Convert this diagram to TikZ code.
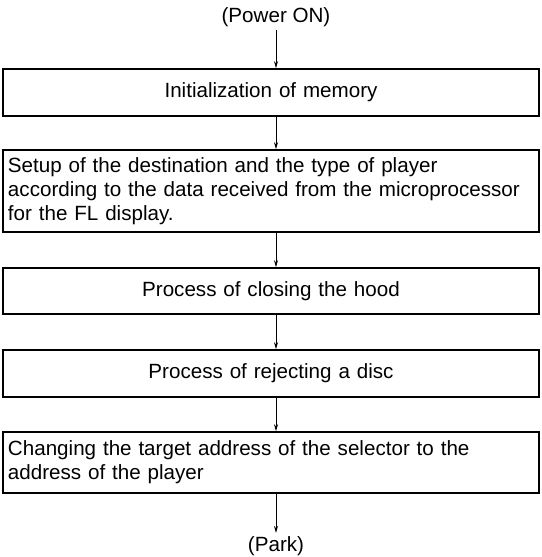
\documentclass[tikz,border=0pt]{standalone}
\usepackage{fontspec}
\setmainfont{Liberation Sans}
\usetikzlibrary{positioning, arrows.meta}

\begin{document}
\begin{tikzpicture}[x=1pt, y=1pt,
    stepbox/.style={draw, line width=1.6pt, minimum width=536pt, inner xsep=5pt,
                    inner ysep=2pt, text width=526pt, font=\fontsize{20.6}{24}\selectfont},
    endtext/.style={font=\fontsize{20.6}{24}\selectfont},
    flow/.style={-{Stealth[length=7pt, width=4pt]}, line width=0.8pt}]
    \useasboundingbox (0,0) rectangle (541,-557);

    \node[endtext] (power) at (276,-17) {(Power ON)};
    \node[stepbox, align=center, minimum height=47pt] (init) at (271,-92.5)
      {Initialization of memory};
    \node[stepbox, align=left, minimum height=82pt] (setup) at (271,-191)
      {Setup of the destination and the type of player\\
       according to the data received from the microprocessor\\
       for the FL display.};
    \node[stepbox, align=center, minimum height=46pt] (hood) at (271,-291)
      {Process of closing the hood};
    \node[stepbox, align=center, minimum height=47pt] (reject) at (271,-373.5)
      {Process of rejecting a disc};
    \node[stepbox, align=left, minimum height=61pt] (change) at (271,-462.5)
      {Changing the target address of the selector to the\\
       address of the player};
    \node[endtext] (park) at (276,-546) {(Park)};

    % connectors
    \draw[flow] (power) -- (init.north -| power);
    \draw[flow] (init.south -| power) -- (setup.north -| power);
    \draw[flow] (setup.south -| power) -- (hood.north -| power);
    \draw[flow] (hood.south -| power) -- (reject.north -| power);
    \draw[flow] (reject.south -| power) -- (change.north -| power);
    \draw[flow] (change.south -| power) -- (park);
\end{tikzpicture}
\end{document}
